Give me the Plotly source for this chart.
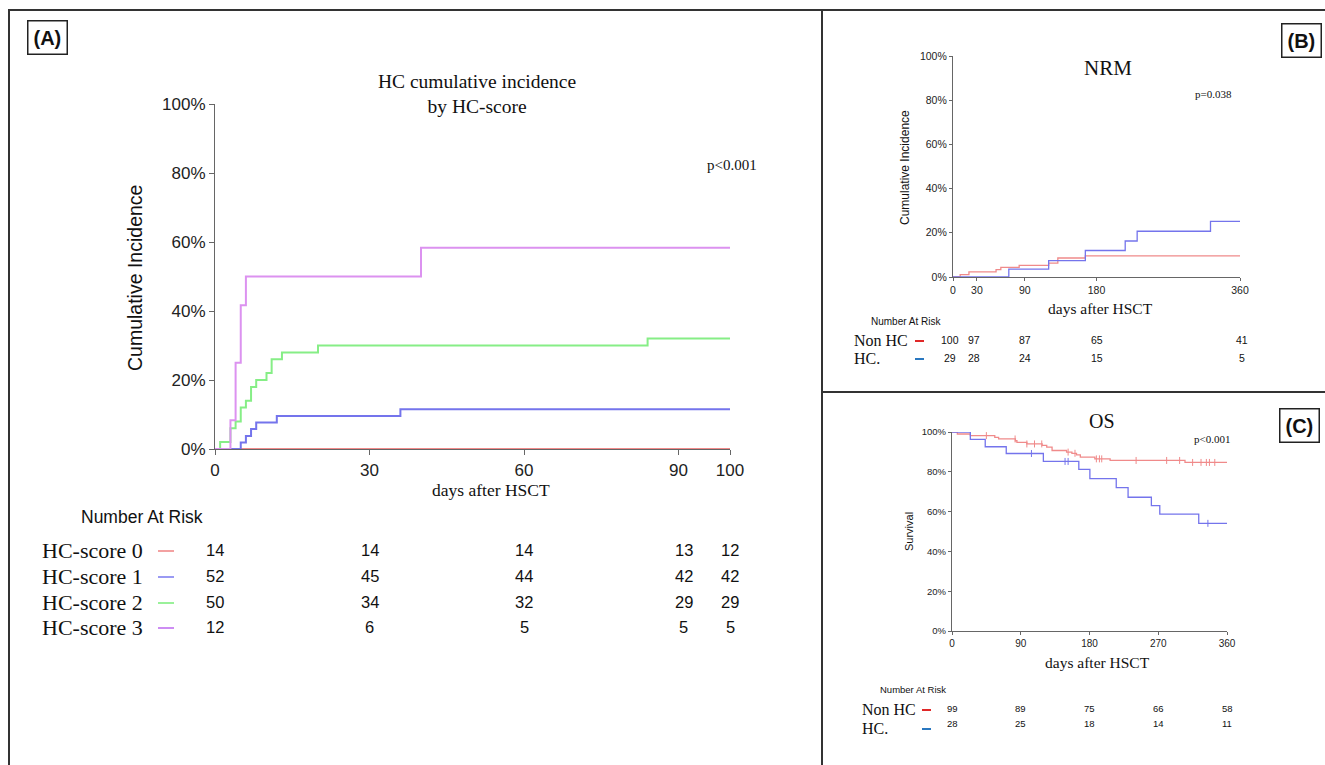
import numpy as np
import plotly.graph_objects as go

W, H = 1325, 765

# ---------------- Panel A data: HC cumulative incidence by HC-score ----------------
a_s0_t = [0, 100]
a_s0_v = [0, 0]
a_s1_t = [0, 5, 6, 7, 8, 12, 36, 100]
a_s1_v = [0, 1.9, 3.8, 5.8, 7.7, 9.6, 11.5, 11.5]
a_s2_t = [0, 1, 3, 4, 5, 6, 7, 8, 10, 11, 13, 20, 84, 100]
a_s2_v = [0, 2, 6, 8, 12, 14, 18, 20, 22, 26, 28, 30, 32, 32]
a_s3_t = [0, 3, 4, 5, 6, 40, 100]
a_s3_v = [0, 8.3, 25, 41.7, 50, 58.3, 58.3]
a_xticks = [0, 30, 60, 90, 100]
a_risk_days = [0, 30, 60, 90, 100]
a_risk_labels = ["HC-score 0", "HC-score 1", "HC-score 2", "HC-score 3"]
a_risk = [[14, 14, 14, 13, 12],
          [52, 45, 44, 42, 42],
          [50, 34, 32, 29, 29],
          [12, 6, 5, 5, 5]]

# ---------------- Panel B data: NRM ----------------
b_non_t = [0, 9, 20, 54, 60, 83, 120, 131.5, 166, 360]
b_non_v = [0, 1.1, 2.3, 3.3, 4.4, 5.3, 6.3, 8.6, 9.6, 9.6]
b_hc_t = [0, 70, 120, 166, 216, 231, 323, 360]
b_hc_v = [0, 3.6, 7.4, 12, 16.3, 20.7, 25.2, 25.2]
b_xticks = [0, 30, 90, 180, 360]
b_risk_days = [0, 30, 90, 180, 360]
b_risk_labels = ["Non HC", "HC."]
b_risk = [[100, 97, 87, 65, 41],
          [29, 28, 24, 15, 5]]

# ---------------- Panel C data: OS ----------------
c_non_t = [0, 7, 24, 56, 61, 83, 85, 98, 118, 124, 131, 150, 157, 163, 168, 187, 207, 305, 360]
c_non_v = [100, 99, 98.2, 97.3, 96.5, 95.6, 94.8, 94, 93.3, 92.4, 90.7, 89.9, 89.3, 88.5, 87.4,
           86.5, 85.7, 84.7, 84.7]
c_non_cens = [45, 82.6, 98, 108, 117.5, 152, 161, 189, 193, 196, 241, 281, 298, 315, 326, 333, 337, 344]
c_hc_t = [0, 24, 43.5, 71, 119.6, 166, 180.5, 215, 230.5, 261, 272, 323, 360]
c_hc_v = [100, 96.3, 92.6, 89.2, 85.2, 81.2, 76.6, 72, 67.2, 63, 58.7, 54.1, 54.1]
c_hc_cens = [104, 148, 152, 335]
c_xticks = [0, 90, 180, 270, 360]
c_risk_days = [0, 90, 180, 270, 360]
c_risk_labels = ["Non HC", "HC."]
c_risk = [[99, 89, 75, 66, 58],
          [28, 25, 18, 14, 11]]

pct_ticks = [0, 20, 40, 60, 80, 100]
pct_labels = ["0%", "20%", "40%", "60%", "80%", "100%"]

SERIF = "Liberation Serif"
SANS = "Liberation Sans"

RED = "#f08a8a"
BLUE = "#7474ec"
GREEN = "#86ee86"
PURPLE = "#dc92f0"


def px(x):
    return x / W


def py(y):
    return 1 - y / H


def step_at(ts, vs, t):
    i = np.searchsorted(np.array(ts), t, side="right") - 1
    return np.array(vs)[i]


fig = go.Figure()

# Panel A traces
for t, v, c in [(a_s0_t, a_s0_v, RED), (a_s1_t, a_s1_v, BLUE),
                (a_s2_t, a_s2_v, GREEN), (a_s3_t, a_s3_v, PURPLE)]:
    fig.add_trace(go.Scatter(x=t, y=v, mode="lines", line=dict(color=c, width=2, shape="hv"),
                             xaxis="x", yaxis="y", showlegend=False, hoverinfo="skip"))

# Panel B traces
for t, v, c in [(b_non_t, b_non_v, RED), (b_hc_t, b_hc_v, BLUE)]:
    fig.add_trace(go.Scatter(x=t, y=v, mode="lines", line=dict(color=c, width=1.3, shape="hv"),
                             xaxis="x2", yaxis="y2", showlegend=False, hoverinfo="skip"))

# Panel C traces
for t, v, c, cens in [(c_non_t, c_non_v, RED, c_non_cens), (c_hc_t, c_hc_v, BLUE, c_hc_cens)]:
    fig.add_trace(go.Scatter(x=t, y=v, mode="lines", line=dict(color=c, width=1.3, shape="hv"),
                             xaxis="x3", yaxis="y3", showlegend=False, hoverinfo="skip"))
    cy = [float(step_at(t, v, ct)) for ct in cens]
    fig.add_trace(go.Scatter(x=cens, y=cy, mode="markers",
                             marker=dict(symbol="line-ns", size=5, line=dict(color=c, width=1)),
                             xaxis="x3", yaxis="y3", showlegend=False, hoverinfo="skip"))

axis_common = dict(showgrid=False, zeroline=False, showline=True, linecolor="#666",
                   linewidth=1.2, ticks="outside", tickcolor="#666", fixedrange=True,
                   automargin=False, tickmode="array")

layout = dict(
    template="none",
    width=W, height=H, margin=dict(l=0, r=0, t=0, b=0, pad=0), autosize=False,
    paper_bgcolor="white", plot_bgcolor="white", showlegend=False,
    xaxis=dict(domain=[px(215), px(730)], range=[0, 100], anchor="y", tickvals=a_xticks,
               ticktext=[str(v) for v in a_xticks],
               ticklen=5, tickfont=dict(family=SANS, size=17, color="#222"), **axis_common),
    yaxis=dict(domain=[py(449), py(104)], range=[0, 100], anchor="x",
               tickvals=pct_ticks, ticktext=pct_labels, ticklen=5,
               tickfont=dict(family=SANS, size=17, color="#222"), **axis_common),
    xaxis2=dict(domain=[px(953), px(1240)], range=[0, 360], anchor="y2", tickvals=b_xticks,
                ticktext=[str(v) for v in b_xticks],
                ticklen=3, tickfont=dict(family=SANS, size=10.5, color="#222"), **axis_common),
    yaxis2=dict(domain=[py(277), py(56)], range=[0, 100], anchor="x2",
                tickvals=pct_ticks, ticktext=pct_labels, ticklen=3,
                tickfont=dict(family=SANS, size=10.5, color="#222"), **axis_common),
    xaxis3=dict(domain=[px(952), px(1227)], range=[0, 360], anchor="y3", tickvals=c_xticks,
                ticktext=[str(v) for v in c_xticks],
                ticklen=3, tickfont=dict(family=SANS, size=10, color="#222"), **axis_common),
    yaxis3=dict(domain=[py(631), py(432)], range=[0, 100], anchor="x3",
                tickvals=pct_ticks, ticktext=pct_labels, ticklen=3,
                tickfont=dict(family=SANS, size=9.5, color="#222"), **axis_common),
)
fig.update_layout(**layout)

ann = []
shapes = []


def text(x, y, s, size, family=SANS, xanchor="center", angle=0, color="#111", **kw):
    ann.append(dict(x=px(x), y=py(y), xref="paper", yref="paper", text=s, showarrow=False,
                    xanchor=xanchor, yanchor="middle", textangle=angle,
                    font=dict(family=family, size=size, color=color), **kw))


def dash(x0, x1, y, color, width=1.6):
    shapes.append(dict(type="line", xref="paper", yref="paper", x0=px(x0), x1=px(x1),
                       y0=py(y), y1=py(y), line=dict(color=color, width=width)))


# Panel borders
border = dict(color="#333", width=2)
shapes.append(dict(type="line", xref="paper", yref="paper", x0=px(8), x1=1, y0=py(10), y1=py(10), line=border))
shapes.append(dict(type="line", xref="paper", yref="paper", x0=px(9), x1=px(9), y0=py(10), y1=0, line=border))
shapes.append(dict(type="line", xref="paper", yref="paper", x0=px(822), x1=px(822), y0=py(10), y1=0, line=border))
shapes.append(dict(type="line", xref="paper", yref="paper", x0=px(822), x1=1, y0=py(392), y1=py(392), line=border))

# Panel labels
for lbl, x, y in [("(A)", 47, 37), ("(B)", 1301, 40), ("(C)", 1299, 425)]:
    ann.append(dict(x=px(x), y=py(y), xref="paper", yref="paper", text="<b>%s</b>" % lbl,
                    showarrow=False, xanchor="center", yanchor="middle",
                    font=dict(family=SANS, size=20, color="#111"),
                    bordercolor="#222", borderwidth=1.5, borderpad=5, bgcolor="white"))

# ---- Panel A texts ----
text(477, 94, "HC cumulative incidence<br>by HC-score", 19.5, SERIF)
text(732, 165, "p<0.001", 15, SERIF)
text(491, 490, "days after HSCT", 17.5, SERIF)
text(135, 278, "Cumulative Incidence", 19.5, SANS, angle=-90)
text(142, 517, "Number At Risk", 17.5, SANS)
a_row_y = [550, 576, 602, 627]
a_dash_cols = ["#f08a8a", "#8080f0", "#80ee80", "#c070f0"]
a_shift = [0, 0, 0, 5, 0]
for i, lab in enumerate(a_risk_labels):
    text(40, a_row_y[i], lab, 22, SERIF, xanchor="left")
    dash(158, 174, a_row_y[i] + 1, a_dash_cols[i])
    for j, d in enumerate(a_risk_days):
        ann.append(dict(x=d, y=py(a_row_y[i]), xref="x", yref="paper", text=str(a_risk[i][j]),
                        showarrow=False, xanchor="center", yanchor="middle", xshift=a_shift[j],
                        font=dict(family=SANS, size=16.5, color="#111")))

# ---- Panel B texts ----
text(1108, 68, "NRM", 21, SERIF)
text(1213, 94, "p=0.038", 11, SERIF)
text(1100, 308, "days after HSCT", 15.5, SERIF)
text(905, 168, "Cumulative Incidence", 12, SANS, angle=-90)
text(906, 321, "Number At Risk", 10, SANS)
b_row_y = [340, 358]
b_dash_cols = ["#e02828", "#2a78c0"]
b_shift = [-3, -3, 0, 0, 2]
for i, lab in enumerate(b_risk_labels):
    text(852, b_row_y[i], lab, 16, SERIF, xanchor="left")
    dash(915, 924, b_row_y[i] + 1, b_dash_cols[i], 2)
    for j, d in enumerate(b_risk_days):
        ann.append(dict(x=d, y=py(b_row_y[i]), xref="x2", yref="paper", text=str(b_risk[i][j]),
                        showarrow=False, xanchor="center", yanchor="middle", xshift=b_shift[j],
                        font=dict(family=SANS, size=10.5, color="#111")))

# ---- Panel C texts ----
text(1102, 421, "OS", 20, SERIF)
text(1212, 439, "p<0.001", 11, SERIF)
text(1097, 662, "days after HSCT", 15.5, SERIF)
text(909, 532, "Survival", 11, SANS, angle=-90)
text(913, 689, "Number At Risk", 9.5, SANS)
c_row_y = [709, 728]
c_num_y = [708, 723]
for i, lab in enumerate(c_risk_labels):
    text(860, c_row_y[i], lab, 16, SERIF, xanchor="left")
    dash(922, 931, c_row_y[i] + 1, b_dash_cols[i], 2)
    for j, d in enumerate(c_risk_days):
        ann.append(dict(x=d, y=py(c_num_y[i]), xref="x3", yref="paper", text=str(c_risk[i][j]),
                        showarrow=False, xanchor="center", yanchor="middle",
                        font=dict(family=SANS, size=9.5, color="#111")))

fig.update_layout(annotations=ann, shapes=shapes)
fig.write_html("out.html", config={"displayModeBar": False},
               post_script="document.body.style.margin='0';document.body.style.overflow='hidden';")
